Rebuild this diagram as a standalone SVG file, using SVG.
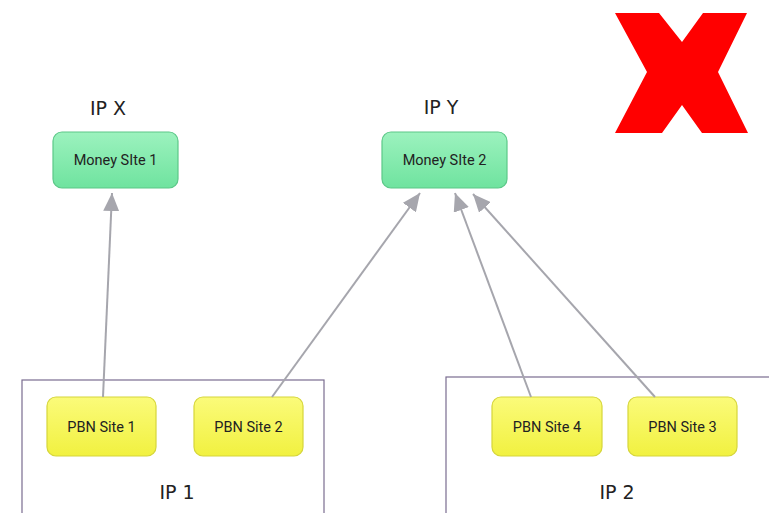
<svg xmlns="http://www.w3.org/2000/svg" width="769" height="513" viewBox="0 0 769 513">
<defs>
<linearGradient id="gGreen" x1="0" y1="0" x2="0" y2="1">
<stop offset="0" stop-color="#9cf2be"/>
<stop offset="1" stop-color="#6fe39f"/>
</linearGradient>
<linearGradient id="gYellow" x1="0" y1="0" x2="0" y2="1">
<stop offset="0" stop-color="#fbfb7a"/>
<stop offset="1" stop-color="#f1f140"/>
</linearGradient>
<marker id="arrow" viewBox="0 0 18 16" refX="18" refY="8" markerWidth="18" markerHeight="16" markerUnits="userSpaceOnUse" orient="auto">
<path d="M0,0 L18,8 L0,16 z" fill="#a6a6ad"/>
</marker>
</defs>
<style>
.money rect{fill:url(#gGreen);stroke:#5cc888;stroke-width:1.2}
.pbn rect{fill:url(#gYellow);stroke:#d6d63a;stroke-width:1.2}
.lbl{font-family:Roboto,"Liberation Sans",sans-serif;font-size:14.5px;fill:#222;text-anchor:middle}
.ip{font-family:"DejaVu Sans","Liberation Sans",sans-serif;font-size:19px;fill:#222;text-anchor:middle}
.group{fill:none;stroke:#7a6d90;stroke-width:1.2}
.conn line{stroke:#a6a6ad;stroke-width:2;marker-end:url(#arrow)}
</style>
<rect width="769" height="513" fill="#ffffff"/>
<g id="cross">
<polygon points="615,13 659,13 682,42 703,13 747,13 718,72 748,133 702,133 682,105 662,133 615,133 647,72" fill="#ff0000"/>
</g>
<g id="ip1-group">
<rect class="group" x="22" y="380" width="302" height="140"/>
<text class="ip" x="177" y="499">IP 1</text>
</g>
<g id="ip2-group">
<rect class="group" x="446" y="377" width="340" height="140"/>
<text class="ip" x="617" y="499">IP 2</text>
</g>
<g id="label-ipx"><text class="ip" x="108" y="115">IP X</text></g>
<g id="label-ipy"><text class="ip" x="441" y="114">IP Y</text></g>
<g id="money1" class="money">
<rect x="53" y="132" width="125" height="56" rx="9"/>
<text class="lbl" x="115.5" y="165">Money SIte 1</text>
</g>
<g id="money2" class="money">
<rect x="382" y="132" width="125" height="56" rx="9"/>
<text class="lbl" x="444.5" y="165">Money SIte 2</text>
</g>
<g id="pbn1" class="pbn">
<rect x="47" y="397" width="109" height="59" rx="9"/>
<text class="lbl" x="101.5" y="431.5">PBN Site 1</text>
</g>
<g id="pbn2" class="pbn">
<rect x="194" y="397" width="109" height="59" rx="9"/>
<text class="lbl" x="248.5" y="431.5">PBN Site 2</text>
</g>
<g id="pbn4" class="pbn">
<rect x="492" y="397" width="110" height="59" rx="9"/>
<text class="lbl" x="547" y="431.5">PBN Site 4</text>
</g>
<g id="pbn3" class="pbn">
<rect x="628" y="397" width="109" height="59" rx="9"/>
<text class="lbl" x="682.5" y="431.5">PBN Site 3</text>
</g>
<g id="connectors" class="conn">
<line x1="103" y1="397" x2="112" y2="193"/>
<line x1="272" y1="397" x2="420" y2="193"/>
<line x1="531" y1="397" x2="455" y2="193"/>
<line x1="655" y1="397" x2="473" y2="194"/>
</g>
</svg>
